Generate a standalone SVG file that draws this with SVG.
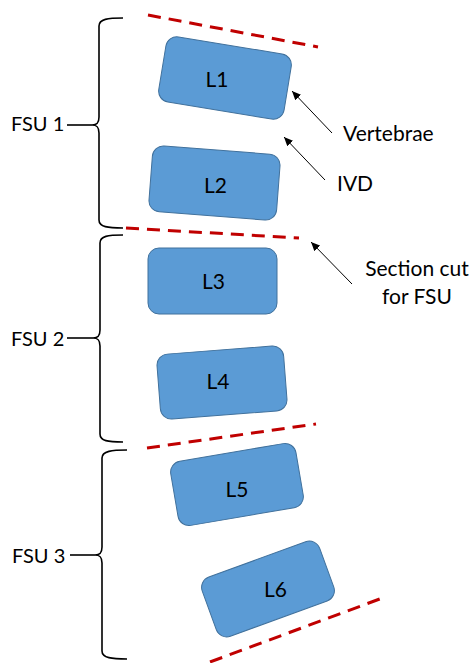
<svg xmlns="http://www.w3.org/2000/svg" width="474" height="663" viewBox="0 0 474 663">
<style>
.vb{fill:#5B9BD5;stroke:#41719C;stroke-width:1}
.t{font-family:Lato,"Liberation Sans",sans-serif;font-size:21px;fill:#000}
.f{font-size:20px}
.c{text-anchor:middle}
.cut{stroke:#C00000;stroke-width:3;stroke-dasharray:13 8;fill:none}
.br{stroke:#000;stroke-width:1.6;fill:none}
.ar{stroke:#000;stroke-width:1;fill:none;marker-end:url(#ah)}
</style>
<defs>
<marker id="ah" markerUnits="userSpaceOnUse" markerWidth="10" markerHeight="8" refX="9" refY="4" orient="auto">
<path d="M0,0 L9,4 L0,8 Z" fill="#000"/>
</marker>
</defs>
<rect width="474" height="663" fill="#fff"/>
<g id="cuts">
<line class="cut" x1="148" y1="15" x2="318" y2="47"/>
<line class="cut" x1="126" y1="228" x2="299" y2="238"/>
<line class="cut" x1="147" y1="448" x2="316" y2="424"/>
<line class="cut" x1="210" y1="662" x2="385" y2="597"/>
</g>
<g id="L1"><rect class="vb" x="-63.5" y="-33" width="127" height="66" rx="11" transform="translate(225,78) rotate(9.3)"/><text class="t c" x="217" y="87">L1</text></g>
<g id="L2"><rect class="vb" x="-64" y="-33" width="128" height="66" rx="11" transform="translate(214.5,183) rotate(4.4)"/><text class="t c" x="215.5" y="193">L2</text></g>
<g id="L3"><rect class="vb" x="148" y="248" width="129" height="66" rx="11"/><text class="t c" x="213.5" y="289">L3</text></g>
<g id="L4"><rect class="vb" x="-63.5" y="-32.5" width="127" height="65" rx="11" transform="translate(222,382.5) rotate(-4.4)"/><text class="t c" x="218" y="389">L4</text></g>
<g id="L5"><rect class="vb" x="-63.5" y="-32.5" width="127" height="65" rx="11" transform="translate(237,484.5) rotate(-9.7)"/><text class="t c" x="237" y="497">L5</text></g>
<g id="L6"><rect class="vb" x="-62.5" y="-31.5" width="125" height="63" rx="11" transform="translate(268,589) rotate(-20)"/><text class="t c" x="275.5" y="597">L6</text></g>
<g id="FSU1">
<path class="br" d="M123,18 C108,18 99,19 99,26 L99,117 C99,123 97,125 92,125 C97,125 99,127 99,133 L99,220 C99,227 108,228 123,228"/>
<line class="br" x1="67" y1="125" x2="92" y2="125"/>
<text class="t f" x="11" y="131">FSU 1</text>
</g>
<g id="FSU2">
<path class="br" d="M123,235 C108,235 100,236 100,243 L100,330 C100,336 98,338 93,338 C98,338 100,340 100,346 L100,434 C100,441 108,442 123,442"/>
<line class="br" x1="67" y1="338" x2="93" y2="338"/>
<text class="t f" x="11" y="346">FSU 2</text>
</g>
<g id="FSU3">
<path class="br" d="M127,450 C112,450 102,451 102,458 L102,547 C102,553 100,555 95,555 C100,555 102,557 102,563 L102,651 C102,658 112,659 127,659"/>
<line class="br" x1="70" y1="555" x2="95" y2="555"/>
<text class="t f" x="12" y="563">FSU 3</text>
</g>
<g id="connectors">
<line class="ar" x1="332" y1="133" x2="292" y2="91"/>
<line class="ar" x1="325" y1="180" x2="284" y2="137"/>
<line class="ar" x1="352" y1="284" x2="311" y2="242"/>
</g>
<g id="labels">
<text class="t" x="343" y="141">Vertebrae</text>
<text class="t" x="337" y="191">IVD</text>
<text class="t c" x="417" y="276">Section cut</text>
<text class="t c" x="417" y="304">for FSU</text>
</g>
</svg>
